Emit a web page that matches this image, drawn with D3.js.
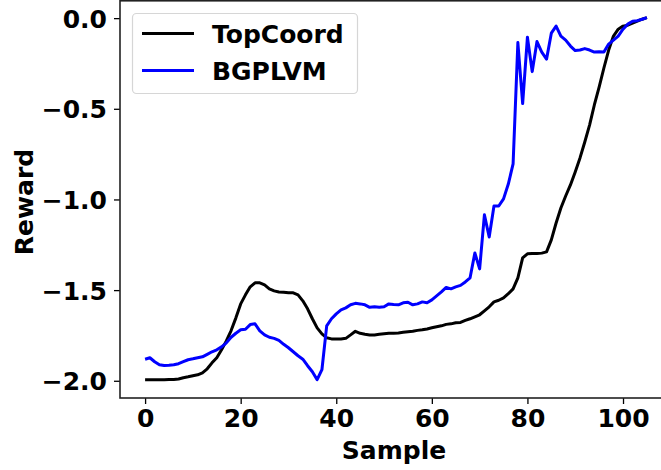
<!DOCTYPE html>
<html>
<head>
<meta charset="utf-8">
<script src="https://cdn.jsdelivr.net/npm/d3@7"></script>
<style>
  body { margin: 0; background: #fff; }
  text { font-family: "DejaVu Sans", sans-serif; font-weight: bold; }
</style>
</head>
<body>
<div id="chart"></div>
<script>
var w = 661, h = 470;

// readings per sample index (0..105)
var topCoord = [
  -1.995, -1.995, -1.995, -1.995, -1.995, -1.993, -1.993, -1.99, -1.983, -1.978,
  -1.972, -1.967, -1.956, -1.934, -1.901, -1.873, -1.829, -1.78, -1.723, -1.653,
  -1.576, -1.526, -1.482, -1.46, -1.46, -1.471, -1.493, -1.504, -1.51, -1.512,
  -1.515, -1.515, -1.526, -1.559, -1.603, -1.658, -1.708, -1.741, -1.763, -1.769,
  -1.769, -1.769, -1.766, -1.747, -1.727, -1.738, -1.743, -1.747, -1.747, -1.744,
  -1.741, -1.738, -1.738, -1.736, -1.733, -1.73, -1.727, -1.722, -1.719, -1.714,
  -1.708, -1.702, -1.697, -1.689, -1.686, -1.68, -1.678, -1.667, -1.658, -1.647,
  -1.636, -1.614, -1.592, -1.565, -1.556, -1.543, -1.52, -1.493, -1.432, -1.322,
  -1.3, -1.298, -1.298, -1.296, -1.289, -1.223, -1.13, -1.047, -0.981, -0.92,
  -0.848, -0.771, -0.683, -0.59, -0.479, -0.38, -0.275, -0.176, -0.099, -0.061,
  -0.044, -0.039, -0.028, -0.017, -0.006, 0.003
];

var bgplvm = [
  -1.881, -1.873, -1.895, -1.912, -1.916, -1.915, -1.912, -1.906, -1.895, -1.884,
  -1.879, -1.873, -1.868, -1.854, -1.84, -1.829, -1.813, -1.791, -1.76, -1.738,
  -1.719, -1.716, -1.69, -1.686, -1.725, -1.747, -1.76, -1.766, -1.777, -1.799,
  -1.818, -1.84, -1.862, -1.881, -1.917, -1.95, -1.994, -1.939, -1.697, -1.658,
  -1.631, -1.609, -1.598, -1.581, -1.573, -1.576, -1.581, -1.595, -1.592, -1.595,
  -1.592, -1.576, -1.579, -1.581, -1.57, -1.567, -1.581, -1.576, -1.565, -1.57,
  -1.554, -1.532, -1.51, -1.485, -1.493, -1.482, -1.474, -1.455, -1.432, -1.295,
  -1.383, -1.085, -1.207, -1.036, -1.036, -0.997, -0.915, -0.804, -0.135, -0.471,
  -0.105, -0.295, -0.129, -0.187, -0.226, -0.083, -0.044, -0.099, -0.121, -0.154,
  -0.179, -0.176, -0.168, -0.176, -0.187, -0.185, -0.187, -0.143, -0.121, -0.099,
  -0.061, -0.033, -0.017, -0.014, -0.006, 0.003
];

var seriesNames = ["TopCoord", "BGPLVM"];
var seriesColors = ["#000000", "#0000ff"];
var xTicks = [0, 20, 40, 60, 80, 100];
var yTicks = [0.0, -0.5, -1.0, -1.5, -2.0];

function main(){
  var svg = d3.select("#chart")
    .append("svg")
    .attr("width", w)
    .attr("height", h);

  var left = 120, right = 672, top = 0, bottom = 398;
  var fs = 25;

  var x = d3.scaleLinear().domain([-5.25, 110.25]).range([left, right]);
  var y = d3.scaleLinear().domain([-2.095, 0.1]).range([bottom, top]);

  // x axis
  var xAxis = d3.axisBottom(x)
    .tickValues(xTicks)
    .tickSize(6)
    .tickPadding(5)
    .tickFormat(d3.format("d"));
  var gx = svg.append("g")
    .attr("transform", "translate(0," + bottom + ")")
    .call(xAxis);
  gx.select(".domain").remove();
  gx.selectAll("line").attr("stroke", "#000").attr("stroke-width", 1.3);
  gx.selectAll("text").attr("font-size", fs).attr("fill", "#000").attr("dy", "0.72em");

  // y axis
  var yAxis = d3.axisLeft(y)
    .tickValues(yTicks)
    .tickSize(6)
    .tickPadding(7)
    .tickFormat(d3.format(".1f"));
  var gy = svg.append("g")
    .attr("transform", "translate(" + left + ",0)")
    .call(yAxis);
  gy.select(".domain").remove();
  gy.selectAll("line").attr("stroke", "#000").attr("stroke-width", 1.3);
  gy.selectAll("text").attr("font-size", fs).attr("fill", "#000").attr("dy", "0.36em");

  // lines
  var line = d3.line()
    .x(function(d, i){ return x(i); })
    .y(function(d){ return y(d); });

  [topCoord, bgplvm].forEach(function(s, k){
    svg.append("path")
      .datum(s)
      .attr("d", line)
      .attr("fill", "none")
      .attr("stroke", seriesColors[k])
      .attr("stroke-width", 3)
      .attr("stroke-linejoin", "round");
  });

  // spines
  svg.append("rect")
    .attr("x", left)
    .attr("y", 0.8)
    .attr("width", right - left)
    .attr("height", bottom - 0.8)
    .attr("fill", "none")
    .attr("stroke", "#222")
    .attr("stroke-width", 1.6);

  // axis labels
  svg.append("text")
    .attr("x", 394)
    .attr("y", 459)
    .attr("text-anchor", "middle")
    .attr("font-size", fs)
    .text("Sample");

  svg.append("text")
    .attr("transform", "translate(33,202) rotate(-90)")
    .attr("text-anchor", "middle")
    .attr("font-size", fs)
    .text("Reward");

  // legend
  var lg = svg.append("g");
  lg.append("rect")
    .attr("x", 132.5)
    .attr("y", 13.5)
    .attr("width", 225)
    .attr("height", 80)
    .attr("rx", 4)
    .attr("fill", "#fff")
    .attr("fill-opacity", 0.8)
    .attr("stroke", "#d6d6d6")
    .attr("stroke-width", 1.2);

  seriesNames.forEach(function(name, k){
    var ly = 33.5 + k * 37;
    lg.append("line")
      .attr("x1", 142).attr("x2", 194)
      .attr("y1", ly).attr("y2", ly)
      .attr("stroke", seriesColors[k])
      .attr("stroke-width", 3);
    lg.append("text")
      .attr("x", 212)
      .attr("y", ly + 9)
      .attr("font-size", fs)
      .attr("fill", "#000")
      .text(name);
  });
}

main();
</script>
</body>
</html>
